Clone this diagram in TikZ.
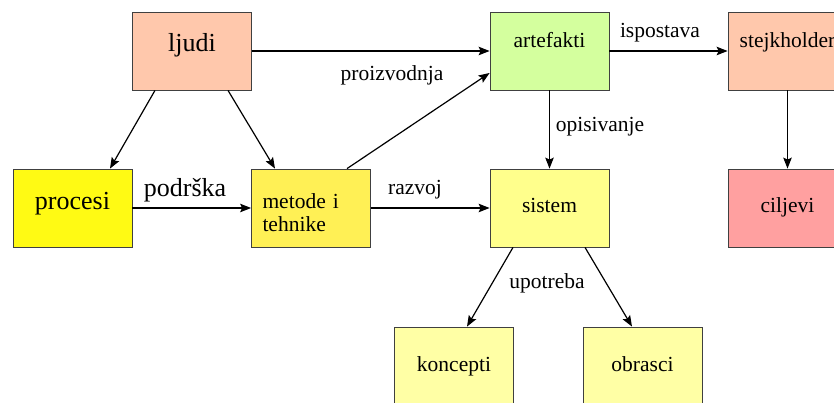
\documentclass[tikz,border=0pt]{standalone}
\usepackage{fontspec}
\setmainfont{Liberation Serif}
\usetikzlibrary{arrows.meta}
\definecolor{lososova}{RGB}{255,200,172}
\definecolor{zuta}{RGB}{255,250,20}
\definecolor{zlatna}{RGB}{255,240,85}
\definecolor{zelena}{RGB}{212,255,158}
\definecolor{svijetlozuta}{RGB}{255,255,140}
\definecolor{blijedozuta}{RGB}{255,255,165}
\definecolor{ruzicasta}{RGB}{255,160,160}
\tikzset{
  blok/.style={draw=black!75, line width=0.8pt, minimum width=119pt, minimum height=78pt,
    inner sep=0pt, font=\fontsize{21.5}{22}\selectfont, text height=14pt, text depth=4pt},
  gore/.style={text height=6pt, text depth=12pt},
  veliki/.style={font=\fontsize{26}{28}\selectfont},
  strelica/.style={-{Stealth[length=11pt,width=8.5pt,inset=2pt]}, line width=1.2pt},
  oznaka/.style={font=\fontsize{21.5}{22}\selectfont, anchor=base, inner sep=0pt}
}
\begin{document}
\begin{tikzpicture}[x=1pt,y=-1pt]
\useasboundingbox (0,0) rectangle (834,403);
\clip (0,0) rectangle (834,403);
\fill[white] (0,0) rectangle (834,403);
% gornji red
\node[blok, veliki, fill=lososova, text height=10pt, text depth=8pt] (ljudi) at (192,51) {ljudi};
\node[blok, gore, fill=zelena] (artefakti) at (549.5,51) {artefakti};
\node[blok, gore, fill=lososova] (stejkholder) at (787.5,51) {stejkholder};
% srednji red
\node[blok, veliki, fill=zuta, text height=12pt, text depth=8pt] (procesi) at (72.5,208) {procesi};
\node[blok, fill=zlatna, align=left, text width=97pt, text height=12pt, text depth=10pt] (metode) at (311,208) {metode i\\tehnike};
\node[blok, fill=svijetlozuta] (sistem) at (549.5,208) {sistem};
\node[blok, fill=ruzicasta] (ciljevi) at (787.5,208) {ciljevi};
% donji red
\foreach \ime/\x in {koncepti/454, obrasci/642.5}
  \node[blok, fill=blijedozuta] (\ime) at (\x,366) {\ime};
% veze
\draw[strelica] (ljudi) -- (artefakti);
\draw[strelica] ([xshift=-37pt]ljudi.south) -- ([xshift=37.5pt]procesi.north);
\draw[strelica] ([xshift=36pt]ljudi.south) -- ([xshift=-36pt]metode.north);
\draw[strelica] (procesi) -- (metode);
\draw[strelica] (metode) -- (sistem);
\draw[strelica] ([xshift=36pt]metode.north) -- ([yshift=-22pt]artefakti.west);
\draw[strelica] (artefakti) -- (sistem);
\draw[strelica] (artefakti) -- (stejkholder);
\draw[strelica] (stejkholder) -- (ciljevi);
\draw[strelica] ([xshift=-36.5pt]sistem.south) -- ([xshift=13pt]koncepti.north);
\draw[strelica] ([xshift=35.5pt]sistem.south) -- ([xshift=-10.5pt]obrasci.north);
% oznake
\node[oznaka] (proizvodnja) at (392,81) {proizvodnja};
\node[oznaka, font=\fontsize{26}{28}\selectfont] (podrska) at (185,197) {podrška};
\node[oznaka] (razvoj) at (415,195) {razvoj};
\node[oznaka] (opisivanje) at (600,132) {opisivanje};
\node[oznaka] (ispostava) at (660,38) {ispostava};
\node[oznaka] (upotreba) at (547,288) {upotreba};
\end{tikzpicture}
\end{document}
